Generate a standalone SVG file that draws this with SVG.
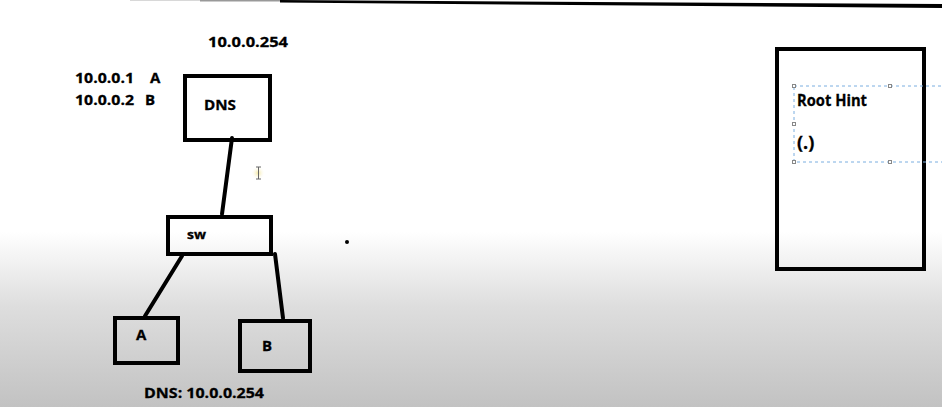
<svg xmlns="http://www.w3.org/2000/svg" width="942" height="407" viewBox="0 0 942 407">
<defs>
<linearGradient id="bg" x1="0" y1="0" x2="0" y2="1">
<stop offset="0" stop-color="#ffffff"/>
<stop offset="0.57" stop-color="#ffffff"/>
<stop offset="0.75" stop-color="#dedede"/>
<stop offset="1" stop-color="#c2c2c2"/>
</linearGradient>
<radialGradient id="halo">
<stop offset="0" stop-color="#f3e7a0"/>
<stop offset="1" stop-color="#ffffff" stop-opacity="0"/>
</radialGradient>
<style>
.box{fill:none;stroke:#000;stroke-width:4}
.wire{stroke:#000;stroke-width:4;stroke-linecap:round;fill:none}
.t{font-family:"Open Sans","Liberation Sans",sans-serif;font-weight:bold;fill:#000;font-size:15px;stroke:#000;stroke-width:0.3}
.sel{fill:none;stroke:#7aaee0;stroke-width:1;stroke-dasharray:3 3}
.h{fill:#fff;stroke:#888;stroke-width:1}
</style>
</defs>
<rect x="0" y="0" width="942" height="407" fill="url(#bg)"/>
<!-- top edge line -->
<polygon points="130,0 280,0 280,1 130,1" fill="#d8d8d8"/>
<polygon points="200,0 280,0 280,1.5 200,1.5" fill="#999"/>
<polygon points="280,0 942,4 942,8 280,2.5" fill="#000"/>

<g id="connectors">
<line class="wire" x1="232" y1="138" x2="222" y2="214"/>
<line class="wire" x1="182" y1="256" x2="145" y2="316"/>
<line class="wire" x1="275" y1="254" x2="283" y2="318"/>
</g>

<text class="t" x="208" y="47" textLength="80" lengthAdjust="spacingAndGlyphs">10.0.0.254</text>
<text class="t" y="83"><tspan x="75" textLength="59" lengthAdjust="spacingAndGlyphs">10.0.0.1</tspan><tspan x="150">A</tspan></text>
<text class="t" y="105"><tspan x="75" textLength="59" lengthAdjust="spacingAndGlyphs">10.0.0.2</tspan><tspan x="145">B</tspan></text>

<g id="dns">
<rect class="box" x="185" y="76" width="85" height="64"/>
<text class="t" x="204" y="110" textLength="32" lengthAdjust="spacingAndGlyphs">DNS</text>
</g>

<g id="sw">
<rect class="box" x="168" y="217" width="103" height="37"/>
<text class="t" x="187" y="239" style="font-size:12px" textLength="19" lengthAdjust="spacingAndGlyphs">sw</text>
</g>

<g id="hostA">
<rect class="box" x="115" y="318" width="63" height="45"/>
<text class="t" x="136" y="340">A</text>
</g>

<g id="hostB">
<rect class="box" x="240" y="321" width="70" height="50"/>
<text class="t" x="262" y="351">B</text>
</g>

<text class="t" x="144" y="398" textLength="120" lengthAdjust="spacingAndGlyphs">DNS: 10.0.0.254</text>

<circle cx="347" cy="242" r="2" fill="#000"/>

<!-- cursor -->
<circle cx="258" cy="173" r="7" fill="url(#halo)"/>
<path d="M256,167 h5 M258.5,167 v12 M256,179 h5" stroke="#666" stroke-width="1" fill="none"/>

<g id="roothint">
<rect class="box" x="777" y="49" width="147" height="220"/>
<rect class="sel" x="794" y="86" width="160" height="76"/>
<rect class="h" x="792.5" y="84.5" width="3" height="3"/>
<rect class="h" x="888.5" y="84.5" width="3" height="3"/>
<rect class="h" x="792.5" y="122.5" width="3" height="3"/>
<rect class="h" x="792.5" y="160.5" width="3" height="3"/>
<rect class="h" x="888.5" y="160.5" width="3" height="3"/>
<text class="t" x="797" y="106" style="font-size:16px" textLength="70" lengthAdjust="spacingAndGlyphs">Root Hint</text>
<text class="t" x="797" y="149" style="font-size:18px">(.)</text>
</g>
</svg>
